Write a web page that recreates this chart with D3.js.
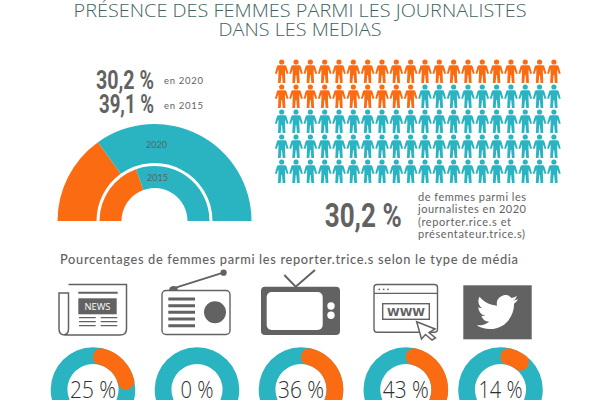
<!DOCTYPE html>
<html><head><meta charset="utf-8">
<script src="https://cdn.jsdelivr.net/npm/d3@7/dist/d3.min.js"></script>
<style>html,body{margin:0;padding:0;background:#fff;overflow:hidden}svg{display:block}</style>
</head><body>
<svg id="c" width="600" height="400"></svg>
<script>
// ---- data
const titleLines = ["PRÉSENCE DES FEMMES PARMI LES JOURNALISTES", "DANS LES MEDIAS"];
const years = ["2020", "2015"];
const yearValues = [30.2, 39.1];
const yearTexts = ["30,2 %", "39,1 %"];
const peopleTotal = 100;
const peopleWomen = 30;
const bigValue = "30,2 %";
const noteLines = ["de femmes parmi les", "journalistes en 2020", "(reporter.rice.s et", "présentateur.trice.s)"];
const subtitle = "Pourcentages de femmes parmi les reporter.trice.s selon le type de média";
const mediaTypes = ["presse", "radio", "télévision", "web", "twitter"];
const mediaValues = [25, 0, 36, 43, 14];

const TEAL = "#2ab3c0", ORANGE = "#fb6c12", GREY = "#626262", TITLE = "#436363";
const svg = d3.select("#c");
function txt(s, x, y, size, opt = {}) {
  const t = svg.append("text").attr("x", x).attr("y", y).attr("font-size", size)
    .attr("font-family", opt.font || "'Open Sans'").attr("font-weight", opt.weight || 400)
    .attr("fill", opt.fill || GREY).attr("text-anchor", opt.anchor || "start").text(s);
  if (opt.len) t.attr("textLength", opt.len).attr("lengthAdjust", opt.adjust || "spacingAndGlyphs");
  return t;
}

// ---- title
txt(titleLines[0], 300, 17, 19, {weight: 300, fill: TITLE, anchor: "middle", len: 453});
txt(titleLines[1], 300, 36, 19, {weight: 300, fill: TITLE, anchor: "middle", len: 163});

// ---- headline figures
const NARROW = "Roboto";
txt(yearTexts[0], 154, 89, 26, {font: NARROW, weight: 700, anchor: "end", len: 58});
txt(yearTexts[1], 154, 113, 26, {font: NARROW, weight: 700, anchor: "end", len: 55});
txt("en " + years[0], 164, 84, 9.5, {font: "Lato", len: 39, adjust: "spacing"});
txt("en " + years[1], 164, 108.5, 9.5, {font: "Lato", len: 39, adjust: "spacing"});

// ---- half-rings
const half = d3.scaleLinear().domain([0, 100]).range([-Math.PI / 2, Math.PI / 2]);
const rings = [{o: 97, i: 58}, {o: 55, i: 33}];
const hg = svg.append("g").attr("transform", "translate(154.5,221)");
years.forEach((y, k) => {
  const a = d3.arc().outerRadius(rings[k].o).innerRadius(rings[k].i);
  hg.append("path").attr("fill", ORANGE).attr("d", a({startAngle: half(0), endAngle: half(yearValues[k])}));
  hg.append("path").attr("fill", TEAL).attr("d", a({startAngle: half(yearValues[k]), endAngle: half(100)}));
});
txt(years[0], 156.5, 147.5, 8.5, {font: "Lato", anchor: "middle", len: 21});
txt(years[1], 157.5, 181, 8.5, {font: "Lato", anchor: "middle", len: 21});

// ---- people pictogram
const colX = d3.scalePoint().domain(d3.range(20)).range([281.7, 553.9]);
const rowY = d3.scalePoint().domain(d3.range(5)).range([62, 162]);
const person = "M-3.1,3.2L3.1,3.2Q4.4,3.2 4.8,4.4L6.8,11.5L5.1,12.1L3.3,7.2L3.3,12L3.7,21L1,21L.3,13L-.3,13L-1,21L-3.7,21L-3.3,12L-3.3,7.2L-5.1,12.1L-6.8,11.5L-4.8,4.4Q-4.4,3.2 -3.1,3.2Z";
const pg = svg.append("g").selectAll("g").data(d3.range(peopleTotal)).join("g")
  .attr("transform", d => `translate(${colX(d % 20)},${rowY(Math.floor(d / 20))})`)
  .attr("fill", d => d < peopleWomen ? ORANGE : TEAL);
pg.append("circle").attr("r", 2.6);
pg.append("path").attr("d", person);

// ---- big figure + note
txt(bigValue, 401.7, 227, 33, {font: NARROW, weight: 700, anchor: "end", len: 77});
const noteY = [200.7, 213, 225.7, 237.7], noteW = [108, 108, 93, 107];
noteLines.forEach((s, i) => txt(s, 418, noteY[i], 11, {font: "Lato", len: noteW[i], adjust: "spacing"}));

// ---- subtitle
txt(subtitle, 60, 264, 12.8, {font: "Lato", weight: 500, len: 458, adjust: "spacing"});

// ---- icons
const ic = svg.append("g").attr("fill", "none").attr("stroke", GREY);
// newspaper
ic.append("path").attr("stroke-width", 1.5).attr("d", "M68.5,284.5H126.5V329Q126.5,335 120,335H65Q59,335 59,329V293H68.5V329Q68.5,334 64,335");
ic.append("path").attr("stroke-width", 2).attr("d", "M78.3,292.7H117.7");
ic.append("rect").attr("x", 78.3).attr("y", 298.3).attr("width", 38.4).attr("height", 16).attr("fill", GREY).attr("stroke", "none");
txt("NEWS", 97.5, 309.5, 8.5, {anchor: "middle", fill: "#fff", len: 26});
ic.append("path").attr("stroke-width", 1.3).attr("d", "M79,317.7H95.7M100.7,317.7H117.3M79,321.7H95.7M100.7,321.7H117.3M79,325.7H95.7M100.7,325.7H117.3");
// radio
ic.append("rect").attr("x", 162).attr("y", 290.5).attr("width", 68).attr("height", 44).attr("rx", 4).attr("stroke-width", 1.4);
ic.append("path").attr("stroke-width", 3).attr("d", "M168.3,299H195M168.3,305.7H195M168.3,312.3H195M168.3,319H195M168.3,325.7H195");
ic.append("circle").attr("cx", 215).attr("cy", 312.3).attr("r", 11).attr("fill", GREY).attr("stroke", "none");
ic.append("path").attr("stroke-width", 1.8).attr("d", "M173.3,288.3L223.3,272.7");
ic.append("circle").attr("cx", 223.6).attr("cy", 272.7).attr("r", 3.1).attr("fill", GREY).attr("stroke", "none");
ic.append("path").attr("fill", GREY).attr("stroke", "none").attr("d", "M169,290.5A4.5,4.5 0 0 1 178,290.5Z");
// tv
ic.append("path").attr("stroke-width", 2).attr("d", "M284.3,275L295.7,286.7L315,270");
ic.append("rect").attr("x", 261).attr("y", 286.7).attr("width", 79).attr("height", 48.3).attr("rx", 4).attr("fill", GREY).attr("stroke", "none");
ic.append("rect").attr("x", 266.7).attr("y", 292).attr("width", 56).attr("height", 38).attr("rx", 5).attr("fill", "#fff").attr("stroke", "none");
ic.append("circle").attr("cx", 331).attr("cy", 306).attr("r", 3.7).attr("fill", "#fff").attr("stroke", "none");
ic.append("circle").attr("cx", 331).attr("cy", 315.3).attr("r", 3.7).attr("fill", "#fff").attr("stroke", "none");
// web
ic.append("rect").attr("x", 374).attr("y", 284.5).attr("width", 63.5).attr("height", 47.8).attr("rx", 3).attr("stroke-width", 1.4);
ic.append("path").attr("stroke-width", 1.3).attr("d", "M374,293.3H437.5");
[379.3, 383.7, 388].forEach(x => ic.append("circle").attr("cx", x).attr("cy", 289.3).attr("r", 0.9).attr("fill", GREY).attr("stroke", "none"));
ic.append("rect").attr("x", 382.7).attr("y", 303.7).attr("width", 46.6).attr("height", 15.6).attr("stroke-width", 1.4);
txt("WWW", 406, 315.5, 10.5, {font: "'DejaVu Sans'", weight: 700, anchor: "middle", len: 38});
ic.append("path").attr("fill", "#fff").attr("stroke-width", 1.5).attr("d", "M416.7,321.7L435,329L429,332.5L435.5,338L432,340L425.5,334.5L421.5,339Z");
// twitter
ic.append("rect").attr("x", 463.3).attr("y", 285.3).attr("width", 68.4).attr("height", 54).attr("fill", GREY).attr("stroke", "none");
svg.append("path").attr("fill", "#fff").attr("transform", "translate(476.7,291.4) scale(1.73)")
  .attr("d", "M23.953 4.57a10 10 0 01-2.825.775 4.958 4.958 0 002.163-2.723c-.951.555-2.005.959-3.127 1.184a4.92 4.92 0 00-8.384 4.482C7.69 8.095 4.067 6.13 1.64 3.162a4.822 4.822 0 00-.666 2.475c0 1.71.87 3.213 2.188 4.096a4.904 4.904 0 01-2.228-.616v.06a4.923 4.923 0 003.946 4.827 4.996 4.996 0 01-2.212.085 4.936 4.936 0 004.604 3.417 9.867 9.867 0 01-6.102 2.105c-.39 0-.779-.023-1.17-.067a13.995 13.995 0 007.557 2.209c9.053 0 13.998-7.496 13.998-13.985 0-.21 0-.42-.015-.63A9.935 9.935 0 0024 4.59z");

// ---- donuts
const donutX = d3.scaleOrdinal().domain(mediaTypes).range([93, 197, 301, 405.8, 500.5]);
const ang = d3.scaleLinear().domain([0, 100]).range([0, 2 * Math.PI]);
const ring = d3.arc().outerRadius(42.3).innerRadius(25.6);
const cap = d3.arc().outerRadius(42.3).innerRadius(25.6).cornerRadius(8.35);
const labelW = [46, 33, 46, 46, 44];
mediaTypes.forEach((m, i) => {
  const g = svg.append("g").attr("transform", `translate(${donutX(m)},389.6)`);
  g.append("path").attr("fill", TEAL).attr("d", ring({startAngle: 0, endAngle: 2 * Math.PI}));
  if (mediaValues[i] > 0) g.append("path").attr("fill", ORANGE).attr("d", cap({startAngle: ang(0), endAngle: ang(mediaValues[i])}));
});
mediaTypes.forEach((m, i) => txt(mediaValues[i] + " %", donutX(m), 398, 23, {weight: 300, fill: "#2e2e2e", anchor: "middle", len: labelW[i]}));
</script>
</body></html>
